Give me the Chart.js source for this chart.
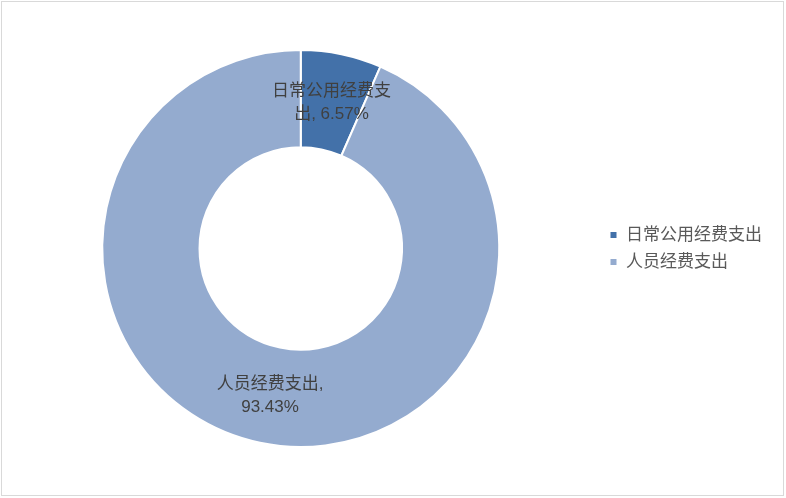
<!DOCTYPE html>
<html>
<head>
<meta charset="utf-8">
<script src="https://cdn.jsdelivr.net/npm/chart.js@4/dist/chart.umd.min.js"></script>
<style>
  html, body { margin: 0; padding: 0; background: #fff; }
  #wrap { position: relative; width: 786px; height: 498px; }
  #frame { position: absolute; left: 1px; top: 1px; width: 783px; height: 495px;
           border: 1px solid #d9d9d9; box-sizing: border-box; pointer-events: none; }
</style>
</head>
<body>
<div id="wrap">
  <canvas id="pie-chart" width="786" height="498"></canvas>
  <div id="frame"></div>
</div>
<script>
// ── Data ───────────────────────────────────────────────────────
const categories = ["日常公用经费支出", "人员经费支出"];
const shares     = [6.57, 93.43];
const colors     = ["#4371a9", "#94abcf"];

const FONT = "'Liberation Sans', 'Noto Sans CJK SC', sans-serif";
const TEXT = "#404040";

// split text into lines: CJK chars break anywhere, latin runs stay whole
function wrapText(ctx, text, maxW) {
  const tokens = text.match(/[\u4e00-\u9fff][,，]?|\s+|[^\s\u4e00-\u9fff]+/g) || [];
  const lines = [];
  let cur = "";
  tokens.forEach((t) => {
    const test = cur + t;
    if (cur && ctx.measureText(test).width > maxW) {
      lines.push(cur.trimEnd());
      cur = t.trim() ? t : "";
    } else {
      cur = test;
    }
  });
  if (cur.trim()) lines.push(cur.trimEnd());
  return lines;
}

// ── Slice labels ───────────────────────────────────────────────
const sliceLabels = {
  id: "sliceLabels",
  afterDatasetsDraw(chart) {
    const { ctx } = chart;
    const meta = chart.getDatasetMeta(0);
    ctx.save();
    ctx.font = `17px ${FONT}`;
    ctx.fillStyle = TEXT;
    ctx.textAlign = "center";
    ctx.textBaseline = "middle";
    meta.data.forEach((arc, i) => {
      const { x, y } = arc.tooltipPosition();
      const lines = wrapText(ctx, `${categories[i]}, ${shares[i].toFixed(2)}%`, 125);
      const lh = 23;
      const top = y + 1 - (lines.length - 1) * lh / 2;
      lines.forEach((ln, k) => ctx.fillText(ln, x, top + k * lh));
    });
    ctx.restore();
  },
};

new Chart(document.getElementById("pie-chart"), {
  type: "doughnut",
  data: {
    labels: categories,
    datasets: [{
      data: shares,
      backgroundColor: colors,
      borderColor: "#ffffff",
      borderWidth: 2,
    }],
  },
  options: {
    responsive: false,
    animation: false,
    cutout: "51%",
    layout: { padding: { left: 2, right: 14, top: 49, bottom: 50 } },
    plugins: {
      tooltip: { enabled: false },
      legend: {
        position: "right",
        labels: {
          boxWidth: 8,
          boxHeight: 8,
          padding: 10,
          color: "#595959",
          font: { size: 17, family: FONT },
        },
      },
    },
  },
  plugins: [sliceLabels],
});
</script>
</body>
</html>
